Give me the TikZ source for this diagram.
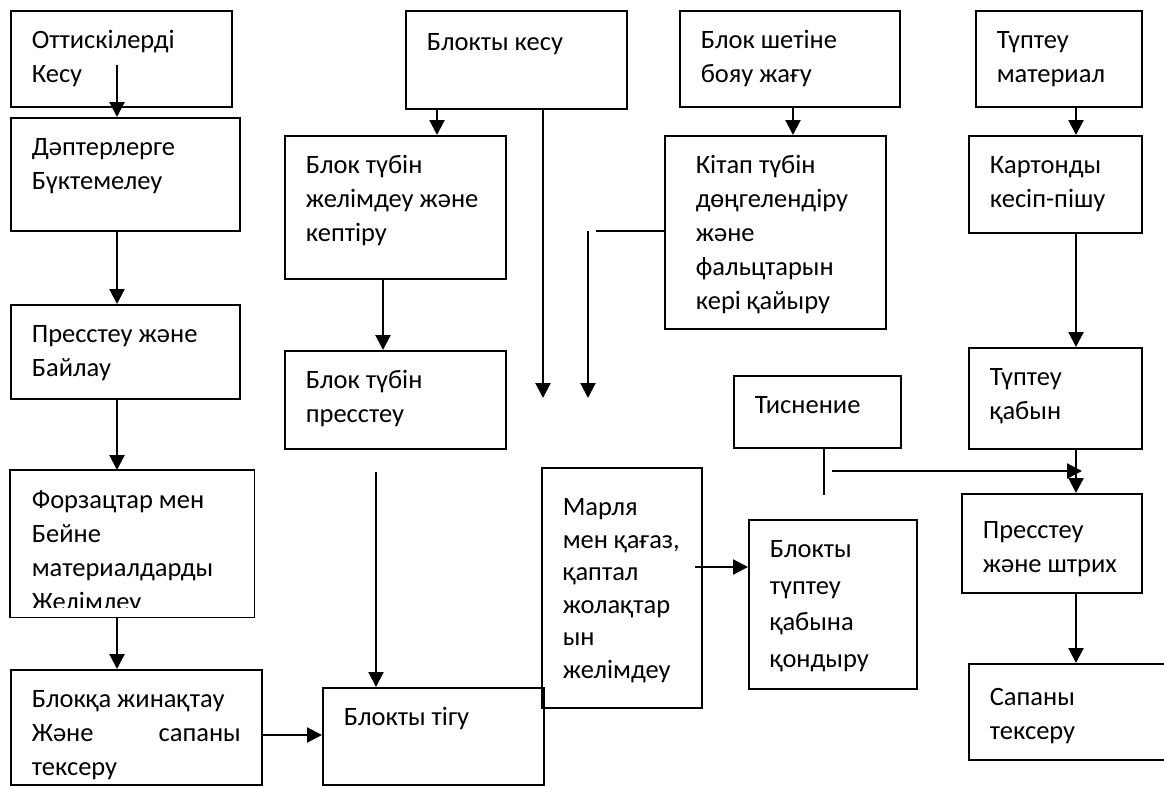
\documentclass[tikz,border=0pt]{standalone}
\usepackage{fontspec}
\setmainfont{Carlito}
\usetikzlibrary{arrows.meta}
\newcommand*{\fs}{26.5}

\begin{document}
\begin{tikzpicture}[
   x=1pt, y=-1pt,
   box/.style={rectangle, draw=black, line width=1.6, text=black, anchor=north west,
               align=flush left, inner xsep=21pt, inner ysep=0pt, text height=38pt,
               font=\fontsize{\fs}{34}\selectfont},
   thin/.style={draw=black, line width=1.5},
   arr/.style={draw=black, line width=2.2, -{Triangle[width=15pt, length=15pt]}}
  ]

  \useasboundingbox (0,0) rectangle (1164,785);

  % left column
  \node (cut) at (10,10) [box, text width=179pt, text depth=58pt] {Оттискілерді\\Кесу};
  \node (fold) at (10,117) [box, text width=187pt, text depth=75pt] {Дәптерлерге\\Бүктемелеу};
  \node (press) at (10,304) [box, text width=187pt, text depth=56pt] {Пресстеу және\\Байлау};
  \begin{scope}
    \clip (0,460) rectangle (300,607);
    \node (glue) at (10,470) [box, draw=none, text width=201pt, text depth=108pt]
      {Форзацтар мен\\Бейне\\материалдарды\\Желімлеу};
  \end{scope}
  \draw[line width=1.6] (glue.north west) rectangle (glue.south east);
  \node (gather) at (10,669) [box, text width=209pt, text depth=77pt]
    {Блокқа жинақтау\\Және \hfill сапаны\\тексеру};

  % middle columns
  \node (blockcut) at (405,10) [box, text width=179pt, text depth=58pt, text height=40pt] {Блокты кесу};
  \node (spineglue) at (284,135) [box, text width=179pt, text depth=105pt]
    {Блок түбін\\желімдеу және\\кептіру};
  \node (spinepress) at (284,350) [box, text width=179pt, text depth=60pt] {Блок түбін\\пресстеу};
  \node (sew) at (322,687) [box, text width=179pt, text depth=59pt] {Блокты тігу};
  \node (gauze) at (541,467) [box, text width=118pt, text height=48pt, text depth=192pt,
                             font=\fontsize{\fs}{32.5}\selectfont]
    {Марля\\мен қағаз,\\қаптал\\жолақтар\\ын\\желімдеу};
  \node (edge) at (679,10) [box, text width=178pt, text depth=58pt] {Блок шетіне\\бояу жағу};
  \node (round) at (664,135) [box, inner xsep=31pt, text width=159pt, text depth=155pt]
    {Кітап түбін\\дөңгелендіру\\және\\фальцтарын\\кері қайыру};
  \node (emboss) at (733,375) [box, text width=125pt, text depth=34pt] {Тиснение};
  \node (fit) at (748,519) [box, text width=126pt, text depth=131pt,
                           font=\fontsize{\fs}{36.5}\selectfont]
    {Блокты\\түптеу\\қабына\\қондыру};

  % right column
  \node (material) at (975,10) [box, text width=124pt, text depth=58pt] {Түптеу\\материал};
  \node (board) at (968,135) [box, text width=131pt, text depth=59pt] {Картонды\\кесіп-пішу};
  \node (cover) at (968,347) [box, text width=131pt, text depth=63pt] {Түптеу\\қабын};
  \node (pressfin) at (961,493) [box, text width=138pt, text height=45pt, text depth=54pt]
    {Пресстеу\\және штрих};
  \node (check) at (968,663) [box, text width=168pt, text height=42pt, text depth=54pt]
    {Сапаны\\тексеру};

  % arrow columns
  \coordinate (lc) at (117,65);
  \coordinate (mc) at (437,0);
  \coordinate (mc2) at (383,0);
  \coordinate (row) at (0,735);
  \coordinate (down1) at (543,398);
  \coordinate (sewin) at (376,472);
  \coordinate (ec) at (793,0);
  \coordinate (rl) at (596,231);
  \coordinate (down2) at (588,398);
  \coordinate (ev) at (824,495);
  \coordinate (eh) at (832,471);
  \coordinate (eh2) at (1082,471);
  \coordinate (gf) at (695,567);
  \coordinate (rc) at (1076,0);

  \draw[arr] (lc) -- (lc |- fold.north);
  \foreach \B/\E in {fold/press, press/glue, glue/gather} {
    \draw[arr] (lc |- \B.south) -- (lc |- \E.north);
  }
  \draw[arr] (gather.east |- row) -- (sew.west |- row);

  \draw[arr] (mc |- blockcut.south) -- (mc |- spineglue.north);
  \draw[arr] (down1 |- blockcut.south) -- (down1);
  \draw[arr] (mc2 |- spineglue.south) -- (mc2 |- spinepress.north);
  \draw[arr] (sewin) -- (sewin |- sew.north);

  \draw[arr] (ec |- edge.south) -- (ec |- round.north);
  \draw[thin] (round.west |- rl) -- (rl);
  \draw[arr] (down2 |- rl) -- (down2);

  \draw[thin] (ev |- emboss.south) -- (ev);
  \draw[arr] (eh) -- (eh2);
  \draw[arr] (gf) -- (fit.west |- gf);

  \foreach \B/\E in {material/board, board/cover, cover/pressfin, pressfin/check} {
    \draw[arr] (rc |- \B.south) -- (rc |- \E.north);
  }

\end{tikzpicture}
\end{document}
